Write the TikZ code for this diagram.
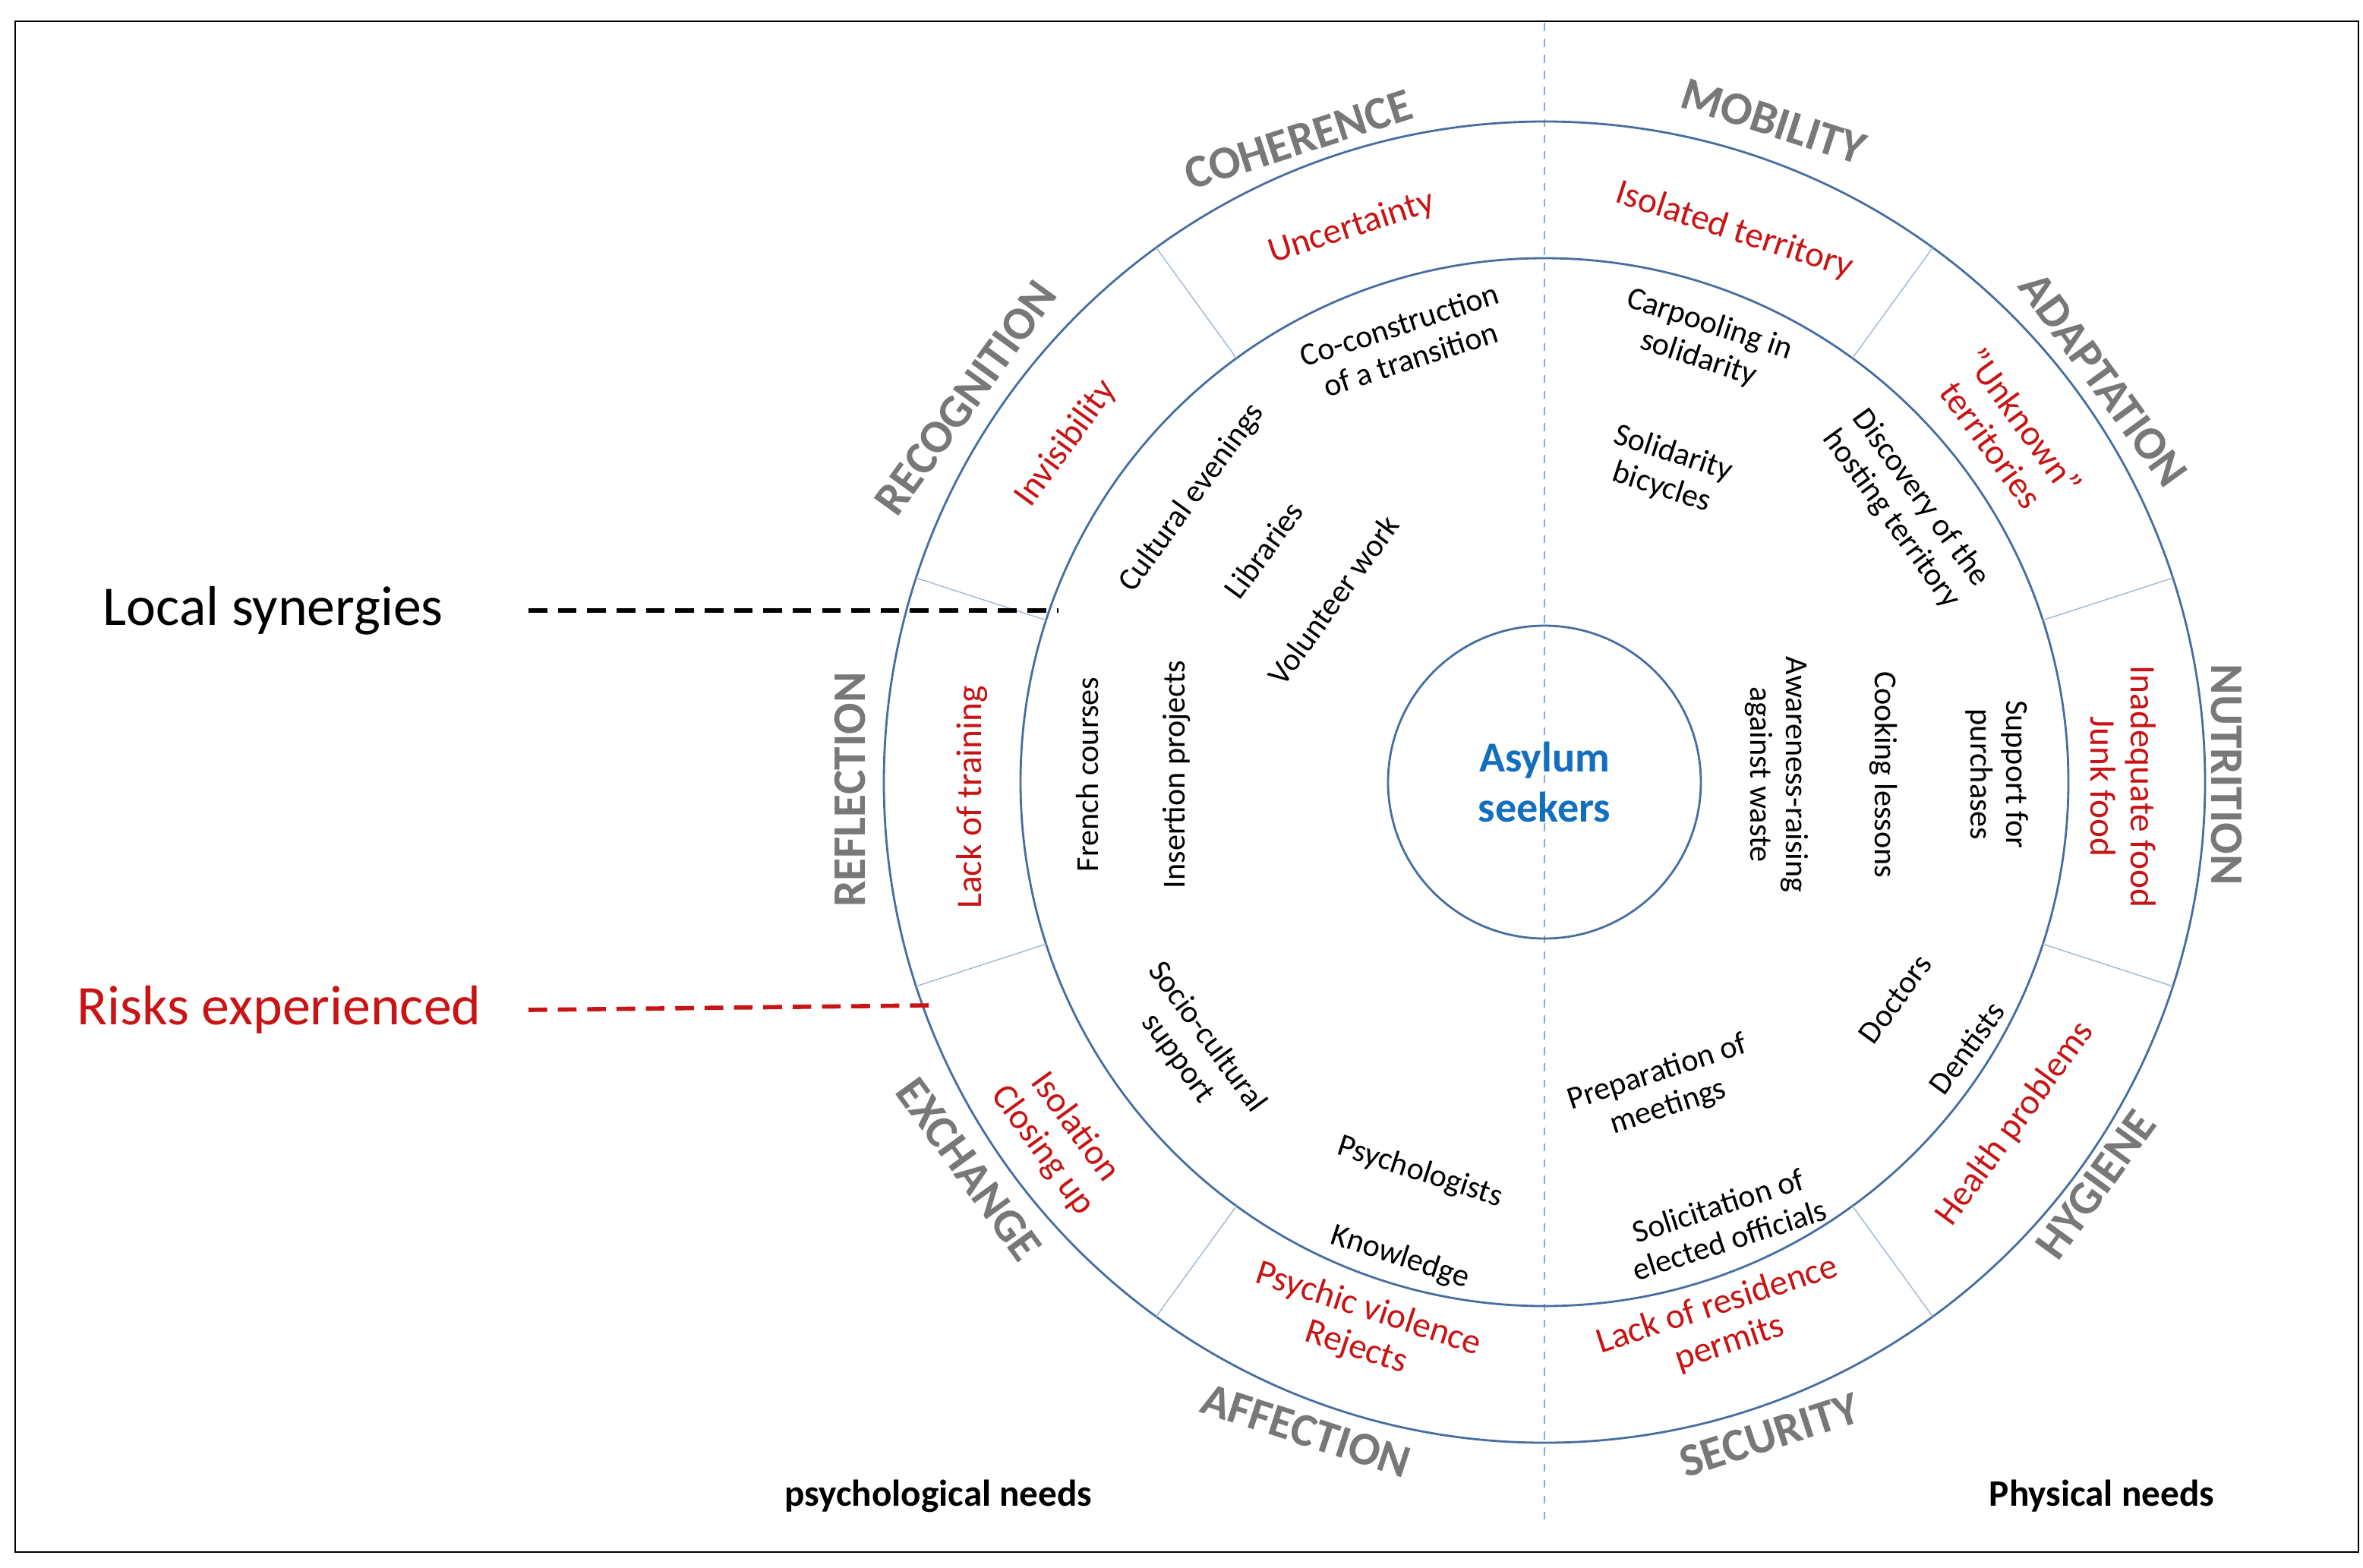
\documentclass[tikz,border=0pt]{standalone}
\usepackage{fontspec}
\setmainfont{Carlito}
\usetikzlibrary{arrows.meta}
\definecolor{ringblue}{RGB}{70,110,160}
\definecolor{riskred}{RGB}{200,20,20}
\definecolor{needgray}{RGB}{120,120,120}
\definecolor{centerblue}{RGB}{20,110,190}
\tikzset{
  need/.style={text=needgray, font=\fontsize{17.5}{19}\selectfont\bfseries},
  risk/.style={text=riskred, font=\fontsize{13.5}{15}\selectfont, align=center},
  action/.style={text=black, font=\fontsize{12}{13.5}\selectfont, align=center},
  legendline/.style={line width=1.6pt, dash pattern=on 7pt off 4pt},
}
\begin{document}
\begin{tikzpicture}[x=0.02cm, y=-0.02cm]
\useasboundingbox (0,0) rectangle (1556,1032);
\draw[black] (10,14) rectangle (1553,1022);
\coordinate (c) at (1017,515);
% axis
\draw[ringblue!60, dashed, thin] (1017,15) -- (1017,1005);
% rings
\draw[ringblue, thick] (c) circle (435);
\draw[ringblue, thick] (c) circle (345);
\draw[ringblue, thick] (c) circle (103);
\foreach \a in {126,162,198,234,306,342,18,54}
  \draw[ringblue!50] ([shift={(-\a:345)}]c) -- ([shift={(-\a:435)}]c);
% needs
\node[need, rotate=18] (coh) at (855,92) {COHERENCE};
\node[need, rotate=-18] (mob) at (1168,80) {MOBILITY};
\node[need, rotate=-54] (ada) at (1385,250) {ADAPTATION};
\node[need, rotate=-90] (nut) at (1466,510) {NUTRITION};
\node[need, rotate=54] (hyg) at (1380,780) {HYGIENE};
\node[need, rotate=18] (sec) at (1165,945) {SECURITY};
\node[need, rotate=-18] (aff) at (860,942) {AFFECTION};
\node[need, rotate=-54] (exc) at (638,770) {EXCHANGE};
\node[need, rotate=90] (ref) at (560,520) {REFLECTION};
\node[need, rotate=54] (rec) at (636,262) {RECOGNITION};
% risks
\node[risk, rotate=18] (unc) at (890,150) {Uncertainty};
\node[risk, rotate=-18] (iso) at (1142,152) {Isolated territory};
\node[risk, rotate=-54] (unk) at (1322,285) {"Unknown"\\territories};
\node[risk, rotate=-90] (food) at (1398,518) {Inadequate food\\Junk food};
\node[risk, rotate=54] (hea) at (1327,740) {Health problems};
\node[risk, rotate=18] (lack) at (1135,872) {Lack of residence\\permits};
\node[risk, rotate=-18] (psy) at (897,875) {Psychic violence\\Rejects};
\node[risk, rotate=-54] (clo) at (697,750) {Isolation\\Closing up};
\node[risk, rotate=90] (tra) at (640,525) {Lack of training};
\node[risk, rotate=54] (inv) at (702,292) {Invisibility};
% actions
\node[action, rotate=18] (cocon) at (925,225) {Co-construction\\of a transition};
\node[action, rotate=-18] (carp) at (1122,225) {Carpooling in\\solidarity};
\node[action, rotate=-18] (bike) at (1098,310) {Solidarity\\bicycles};
\node[action, rotate=-54] (disc) at (1255,335) {Discovery of the\\hosting territory};
\node[action, rotate=54] (cult) at (785,328) {Cultural evenings};
\node[action, rotate=54] (lib) at (832,362) {Libraries};
\node[action, rotate=54] (vol) at (878,395) {Volunteer work};
\node[action, rotate=90] (fre) at (716,510) {French courses};
\node[action, rotate=90] (ins) at (775,510) {Insertion projects};
\node[action, rotate=-90] (awa) at (1170,510) {Awareness-raising\\against waste};
\node[action, rotate=-90] (cook) at (1240,510) {Cooking lessons};
\node[action, rotate=-90] (sup) at (1315,510) {Support for\\purchases};
\node[action, rotate=-54] (soc) at (785,690) {Socio-cultural\\support};
\node[action, rotate=-18] (psyc) at (935,772) {Psychologists};
\node[action, rotate=-18] (know) at (922,828) {Knowledge};
\node[action, rotate=18] (prep) at (1095,718) {Preparation of\\meetings};
\node[action, rotate=18] (soli) at (1135,805) {Solicitation of\\elected officials};
\node[action, rotate=54] (doc) at (1248,658) {Doctors};
\node[action, rotate=54] (den) at (1295,690) {Dentists};
\node[text=centerblue, font=\fontsize{16}{19}\selectfont\bfseries, align=center] (asy) at (c) {Asylum\\seekers};
% legend
\node[font=\fontsize{21}{23}\selectfont, anchor=east] (syn) at (298,402) {Local synergies};
\node[font=\fontsize{21}{23}\selectfont, text=riskred, anchor=east] (risk) at (323,665) {Risks experienced};
\coordinate (synend) at (697,402);
\coordinate (riskend) at (612,662);
\draw[legendline] (348,402) -- (synend);
\draw[legendline, riskred] (348,665) -- (riskend);
\node[font=\fontsize{14}{16}\selectfont\bfseries] (psyn) at (618,985) {psychological needs};
\node[font=\fontsize{14}{16}\selectfont\bfseries] (phyn) at (1384,985) {Physical needs};
\end{tikzpicture}
\end{document}
